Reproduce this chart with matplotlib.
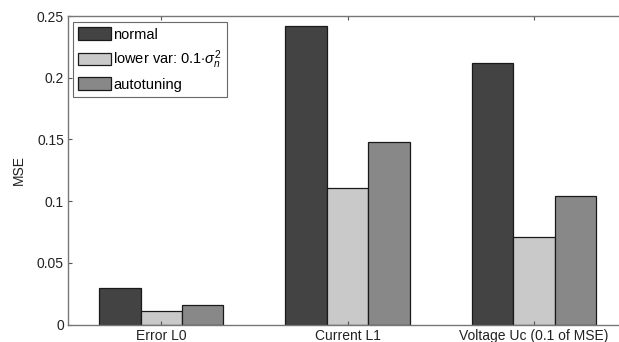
import matplotlib
matplotlib.use('Agg')
import matplotlib.pyplot as plt
import numpy as np

plt.rcParams['font.family'] = ['Liberation Sans', 'DejaVu Sans']
plt.rcParams['mathtext.fontset'] = 'custom'
plt.rcParams['mathtext.rm'] = 'Liberation Sans'
plt.rcParams['mathtext.it'] = 'Liberation Sans:italic'

groups = ['Error L0', 'Current L1', 'Voltage Uc (0.1 of MSE)']
series = ['normal', r'lower var: 0.1$\cdot\sigma_n^2$', 'autotuning']
normal = [0.030, 0.242, 0.212]
lower_var = [0.011, 0.111, 0.071]
autotuning = [0.016, 0.148, 0.104]
colors = ['#434343', '#c9c9c9', '#888888']

fig = plt.figure(figsize=(6.19, 3.42), dpi=100)
# axes run past the right border of the figure
ax = fig.add_axes([0.110, 0.051, 0.903, 0.902])

x = np.arange(1, len(groups) + 1)
gw = 3 / 4.5
w = gw / 3
for i, (vals, lab) in enumerate(zip([normal, lower_var, autotuning], series)):
    ax.bar(x + (i - 1) * w, vals, width=w, color=colors[i], edgecolor='#1a1a1a',
           linewidth=0.9, label=lab)

ax.set_xlim(0.5, 3.5)
ax.set_ylim(0, 0.25)
ax.set_xticks(x)
ax.set_xticklabels(groups)
ax.set_yticks([0, 0.05, 0.1, 0.15, 0.2, 0.25])
ax.set_yticklabels(['0', '0.05', '0.1', '0.15', '0.2', '0.25'])
ax.set_ylabel('MSE', fontsize=10, color='#222222', labelpad=8)
ax.tick_params(direction='in', length=3, width=0.8, color='#555555',
               labelsize=10, labelcolor='#222222', top=True, right=True, pad=3)
for s in ax.spines.values():
    s.set_color('#777777')
    s.set_linewidth(1.0)

leg = ax.legend(loc='upper left', fontsize=10.5, frameon=True, fancybox=False,
                borderpad=0.35, borderaxespad=0, handlelength=2.25, handleheight=0.95,
                handletextpad=0.15, labelspacing=0.45,
                bbox_to_anchor=(0.009, 0.98))
leg.get_frame().set_edgecolor('#444444')
leg.get_frame().set_linewidth(0.8)

fig.savefig('out.png', dpi=100)
